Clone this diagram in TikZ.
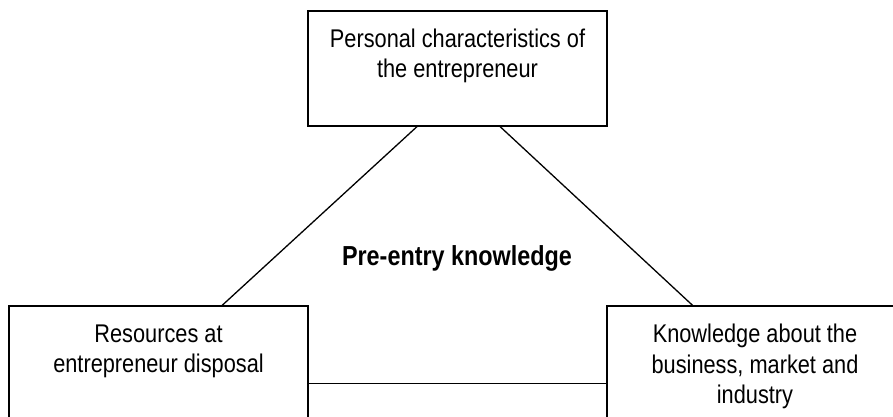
\documentclass[tikz,border=0pt]{standalone}
\usepackage{fontspec}
\setmainfont{Liberation Sans}[FakeStretch=0.85]
\usetikzlibrary{calc}
\begin{document}
\begin{tikzpicture}[x=1pt,y=-1pt,
  box/.style={draw=black, line width=1.3pt, inner sep=0pt, fill=none},
  lbl/.style={inner sep=0pt, align=center, font=\fontsize{25.6}{30.5}\selectfont},
  mid/.style={inner sep=0pt, font=\fontsize{27.5}{33}\selectfont\bfseries},
  link/.style={draw=black, line width=1.3pt}]
\useasboundingbox (0,0) rectangle (893,416);
\clip (0,0) rectangle (893,416);
\fill[white] (0,0) rectangle (893,416);
% boxes
\node[box, minimum width=299pt, minimum height=115pt] (top) at (457.5,68.5) {};
\node[box, minimum width=299pt, minimum height=150pt] (left) at (158.5,381) {};
\node[box, minimum width=296pt, minimum height=150pt] (right) at (755,381) {};
% texts
\node[lbl, anchor=north] (toptxt) at ([yshift=-18pt]top.north) {Personal characteristics of\\the entrepreneur};
\node[lbl, anchor=north] (lefttxt) at ([yshift=-19pt]left.north) {Resources at\\entrepreneur disposal};
\node[lbl, anchor=north] (righttxt) at ([yshift=-18.5pt]right.north) {Knowledge about the\\business, market and\\industry};
\node[mid, anchor=base] (pre) at (457,265) {Pre-entry knowledge};
% connectors
\coordinate (tA) at ($(top.south west)!0.365!(top.south east)$);
\coordinate (tB) at ($(top.south west)!0.642!(top.south east)$);
\coordinate (lA) at ($(left.north west)!0.712!(left.north east)$);
\coordinate (rA) at ($(right.north west)!0.29!(right.north east)$);
\draw[link] (tA) -- (lA);
\draw[link] (tB) -- (rA);
\draw[link] ([yshift=-78pt]left.north east) -- ([yshift=-78pt]right.north west);
\end{tikzpicture}
\end{document}
